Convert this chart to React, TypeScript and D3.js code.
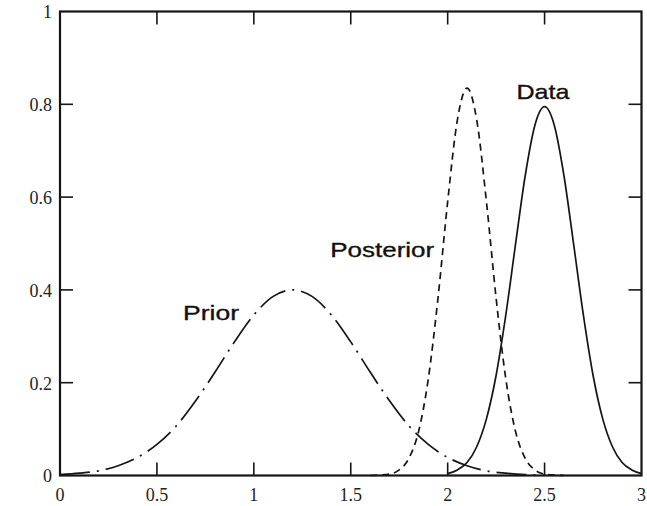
import React, { useEffect, useRef } from 'react';
import * as d3 from 'd3';

// curve samples
const priorX = [0, 0.1, 0.2, 0.3, 0.4, 0.5, 0.6, 0.7, 0.8, 0.9, 1.0, 1.1, 1.2, 1.3, 1.4, 1.5, 1.6, 1.7, 1.8, 1.9, 2.0, 2.1, 2.2, 2.3, 2.4, 2.5];
const priorY = [0.002, 0.005, 0.01, 0.021, 0.039, 0.067, 0.107, 0.161, 0.223, 0.288, 0.346, 0.386, 0.4, 0.386, 0.346, 0.288, 0.223, 0.161, 0.107, 0.067, 0.039, 0.021, 0.01, 0.005, 0.002, 0.001];

const postX = [1.6, 1.65, 1.7, 1.75, 1.8, 1.85, 1.9, 1.95, 2.0, 2.05, 2.1, 2.15, 2.2, 2.25, 2.3, 2.35, 2.4, 2.45, 2.5, 2.55, 2.6];
const postY = [0.0, 0.001, 0.003, 0.012, 0.037, 0.095, 0.208, 0.382, 0.59, 0.766, 0.835, 0.766, 0.59, 0.382, 0.208, 0.095, 0.037, 0.012, 0.003, 0.001, 0.0];

const dataX = [2.0, 2.05, 2.1, 2.15, 2.2, 2.25, 2.3, 2.35, 2.4, 2.45, 2.5, 2.55, 2.6, 2.65, 2.7, 2.75, 2.8, 2.85, 2.9, 2.95, 3.0];
const dataY = [0.004, 0.012, 0.028, 0.062, 0.122, 0.216, 0.346, 0.498, 0.646, 0.755, 0.795, 0.755, 0.646, 0.498, 0.346, 0.216, 0.122, 0.062, 0.028, 0.012, 0.004];

const xTicks = [0, 0.5, 1, 1.5, 2, 2.5, 3];
const yTicks = [0, 0.2, 0.4, 0.6, 0.8, 1];
const xTickLabels = ['0', '0.5', '1', '1.5', '2', '2.5', '3'];
const yTickLabels = ['0', '0.2', '0.4', '0.6', '0.8', '1'];

const labels = [
  { text: 'Prior', x: 0.635, y: 0.335, len: 56 },
  { text: 'Posterior', x: 1.394, y: 0.471, len: 104 },
  { text: 'Data', x: 2.355, y: 0.812, len: 53 },
];

export default function App() {
  const svgRef = useRef<SVGSVGElement>(null);

  useEffect(() => {
    const w = 647;
    const h = 506;
    const svg = d3.select(svgRef.current).attr('width', w).attr('height', h);
    svg.selectAll('*').remove();

    const x = d3.scaleLinear().domain([0, 3]).range([60, 641.5]);
    const y = d3.scaleLinear().domain([0, 1]).range([475.5, 11.5]);
    const ink = '#151515';
    const tl = 13;

    svg.append('rect').attr('width', w).attr('height', h).attr('fill', '#fff');

    const line = d3.line<[number, number]>()
      .x(d => x(d[0]))
      .y(d => y(d[1]))
      .curve(d3.curveMonotoneX);

    const series = [
      { xs: priorX, ys: priorY, dash: '30,7,2,7' },
      { xs: postX, ys: postY, dash: '7,5' },
      { xs: dataX, ys: dataY, dash: null },
    ];
    series.forEach(s => {
      const pts = s.xs.map((v, i) => [v, s.ys[i]] as [number, number]);
      svg.append('path')
        .attr('d', line(pts))
        .attr('fill', 'none')
        .attr('stroke', ink)
        .attr('stroke-width', 1.7)
        .attr('stroke-dasharray', s.dash);
    });

    // inward ticks on all four sides
    const g = svg.append('g').attr('stroke', ink).attr('stroke-width', 1.6);
    xTicks.slice(1, -1).forEach(t => {
      g.append('line').attr('x1', x(t)).attr('x2', x(t)).attr('y1', y(0)).attr('y2', y(0) - tl);
      g.append('line').attr('x1', x(t)).attr('x2', x(t)).attr('y1', y(1)).attr('y2', y(1) + tl);
    });
    yTicks.slice(1, -1).forEach(t => {
      g.append('line').attr('x1', x(0)).attr('x2', x(0) + tl).attr('y1', y(t)).attr('y2', y(t));
      g.append('line').attr('x1', x(3)).attr('x2', x(3) - tl).attr('y1', y(t)).attr('y2', y(t));
    });

    svg.append('rect')
      .attr('x', x(0)).attr('y', y(1))
      .attr('width', x(3) - x(0)).attr('height', y(0) - y(1))
      .attr('fill', 'none').attr('stroke', ink).attr('stroke-width', 2.2);

    const tickFont = '"Liberation Serif", "DejaVu Serif", serif';
    svg.append('g').selectAll('text').data(xTicks).join('text')
      .attr('x', d => x(d))
      .attr('y', 501)
      .attr('text-anchor', 'middle')
      .attr('font-family', tickFont)
      .attr('font-size', 18)
      .attr('fill', '#222')
      .text((d, i) => xTickLabels[i]);

    svg.append('g').selectAll('text').data(yTicks).join('text')
      .attr('x', 52)
      .attr('y', d => y(d))
      .attr('dy', '0.38em')
      .attr('text-anchor', 'end')
      .attr('font-family', tickFont)
      .attr('font-size', 18)
      .attr('fill', '#222')
      .text((d, i) => yTickLabels[i]);

    svg.append('g').selectAll('text').data(labels).join('text')
      .attr('x', d => x(d.x))
      .attr('y', d => y(d.y))
      .attr('font-family', '"Liberation Sans", Arial, sans-serif')
      .attr('font-size', 21)
      .attr('textLength', d => d.len)
      .attr('lengthAdjust', 'spacingAndGlyphs')
      .attr('fill', '#111')
      .attr('stroke', '#111')
      .attr('stroke-width', 0.35)
      .text(d => d.text);
  }, []);

  return (
    <div>
      <svg ref={svgRef} style={{ position: 'absolute', left: 0, top: 0 }}></svg>
    </div>
  );
}
